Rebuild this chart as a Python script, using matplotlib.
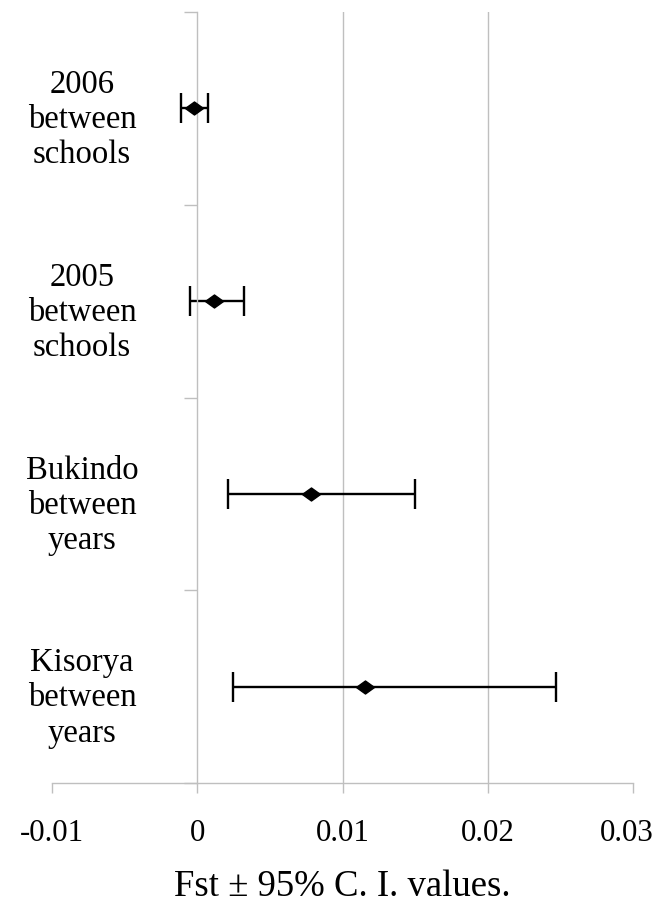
import numpy as np
import matplotlib.pyplot as plt
from matplotlib.path import Path
from matplotlib.transforms import blended_transform_factory, ScaledTranslation

plt.rcParams['font.family'] = ['Liberation Serif', 'DejaVu Serif']

# Fst estimates with 95% confidence limits, top to bottom
labels = ["2006\nbetween\nschools", "2005\nbetween\nschools",
          "Bukindo\nbetween\nyears", "Kisorya\nbetween\nyears"]
fst = [-0.00023, 0.00115, 0.0078, 0.01157]
ci_low = [-0.00114, -0.0005, 0.0021, 0.00245]
ci_high = [0.00076, 0.0032, 0.0150, 0.0247]
xticks = [-0.01, 0, 0.01, 0.02, 0.03]
xticklabels = ["-0.01", "0", "0.01", "0.02", "0.03"]

grey = "#bfbfbf"
fig = plt.figure(figsize=(6.55, 9.12), dpi=100)
ax = fig.add_axes([52/655, 1 - 784/912, (633 - 52)/655, (784 - 13)/912])

n = len(labels)
ypos = np.arange(n)[::-1] + 0.5
fst = np.array(fst)
err = [fst - np.array(ci_low), np.array(ci_high) - fst]

# flattened diamond like the Excel marker
diamond = Path([(-1, 0), (0, 0.72), (1, 0), (0, -0.72), (-1, 0)],
               [Path.MOVETO, Path.LINETO, Path.LINETO, Path.LINETO, Path.CLOSEPOLY])

for gx in [0.01, 0.02]:
    ax.axvline(gx, color=grey, lw=1.0, zorder=0)

ax.errorbar(fst, ypos, xerr=err, fmt='none', ecolor='black', elinewidth=1.7,
            capsize=11, capthick=1.7, zorder=2)
ax.plot(fst, ypos, linestyle='none', marker=diamond, markersize=13,
        color='black', zorder=3)

ax.set_xlim(-0.01, 0.03)
ax.set_ylim(0, n)

# value axis crosses at x = 0
ax.spines['left'].set_position(('data', 0))
for s in ['top', 'right']:
    ax.spines[s].set_visible(False)
for s in ['left', 'bottom']:
    ax.spines[s].set_color(grey)
    ax.spines[s].set_linewidth(1.0)

ax.set_xticks(xticks)
ax.set_xticklabels(xticklabels, fontsize=22.3)
ax.tick_params(axis='x', direction='out', length=7, width=1.0, color=grey, pad=18)
# keep the last label inside the canvas
last = ax.get_xticklabels()[-1]
last.set_transform(last.get_transform() + ScaledTranslation(-0.06, 0, fig.dpi_scale_trans))
ax.set_yticks(np.arange(n + 1))
ax.set_yticklabels([])
ax.tick_params(axis='y', direction='out', length=9.5, width=1.0, color=grey)

tr = blended_transform_factory(fig.transFigure, ax.transData)
for lab, y in zip(labels, ypos):
    ax.text(82/655, y - 0.055, lab, transform=tr, ha='center', va='center',
            fontsize=23.5, linespacing=1.2)

ax.set_xlabel("Fst ± 95% C. I. values.", fontsize=26.5, labelpad=16)

fig.savefig("out.png", dpi=100)
